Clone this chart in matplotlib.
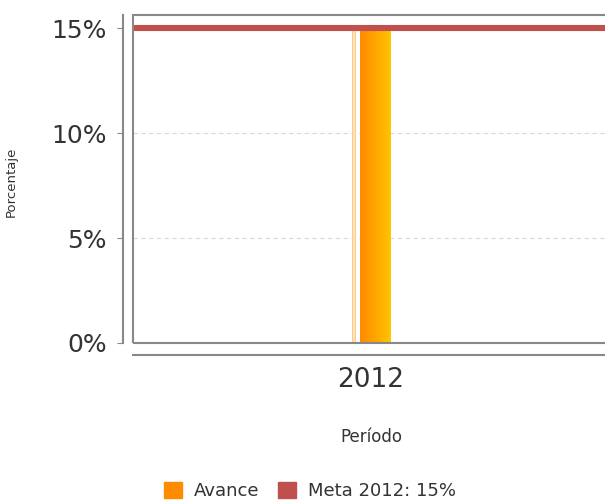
import numpy as np
import matplotlib
matplotlib.use("Agg")
import matplotlib.pyplot as plt
from matplotlib.patches import Patch, Rectangle

periodos = ["2012"]
avance = [15.0]
meta = 15.0
meta_label = "Meta 2012: 15%"
yticks = [0, 5, 10, 15]

fig = plt.figure(figsize=(6.05, 5.03), dpi=100)
W, H = 605, 503
# plot box from x=133 to ~609 (right edge clipped), y=15 to 343
ax = fig.add_axes([133 / W, 1 - 343 / H, 476 / W, (343 - 15) / H])
ax.set_facecolor("white")

x = np.arange(len(periodos))
ax.set_xlim(-0.5, 0.5)
ax.set_ylim(0, 15.62)

# soft left strip and main bar
ax.bar(x - 0.0355, avance, width=0.010, color="#ffc98a", edgecolor="none", zorder=2)
ax.bar(x - 0.0355, avance, width=0.003, color="#ffe2c0", edgecolor="none", zorder=2)
bars = ax.bar(x + 0.0085, avance, width=0.065, color="#ff9900", edgecolor="none", zorder=3)
cmap = matplotlib.colors.LinearSegmentedColormap.from_list("g", ["#ff8a00", "#ffa500", "#ffc400"])
for b in bars:
    grad = np.linspace(0, 1, 64).reshape(1, -1)
    im = ax.imshow(grad, extent=[b.get_x(), b.get_x() + b.get_width(), 0, b.get_height()],
                   aspect="auto", cmap=cmap, zorder=3)
    im.set_clip_path(b)

ax.axhline(meta, color="#c0504d", lw=4.4, zorder=4)

ax.set_yticks(yticks)
ax.set_yticklabels([f"{v}%" for v in yticks])
ax.set_xticks(x)
ax.set_xticklabels(periodos)
ax.grid(axis="y", color="#d9d9d9", linestyle=(0, (4, 3)), lw=0.8, zorder=0)

for s in ["top", "right"]:
    ax.spines[s].set_visible(False)
ax.spines["left"].set_position(("outward", 7))
ax.spines["bottom"].set_position(("outward", 8.6))
for s in ["left", "bottom"]:
    ax.spines[s].set_color("#888888")
    ax.spines[s].set_linewidth(1.5)
ax.tick_params(axis="y", length=4, color="#888888", pad=8, labelsize=18, labelcolor="#333333")
ax.tick_params(axis="x", length=0, pad=9, labelsize=19, labelcolor="#333333")

# inner frame of the plot area
ax.add_patch(Rectangle((0, 0), 1, 1, transform=ax.transAxes, fill=False,
                       edgecolor="#888888", lw=1.5, zorder=5, clip_on=False))

ax.set_ylabel("Porcentaje", fontsize=9.5, color="#333333")
ax.yaxis.set_label_coords((18 - 133) / 476, (343 - 182) / 328)
ax.set_xlabel("Período", fontsize=12, color="#333333")
ax.xaxis.set_label_coords(0.5, (343 - 437) / 328)
ax.xaxis.label.set_va("center")

handles = [Patch(color="#ff8c00", label="Avance"), Patch(color="#c0504d", label=meta_label)]
fig.legend(handles=handles, loc="center", bbox_to_anchor=(310 / W, 1 - 491 / H), ncol=2,
           frameon=False, fontsize=13, handlelength=1.0, handleheight=1.0,
           handletextpad=0.7, columnspacing=1.0, labelcolor="#333333")

fig.savefig("out.png", dpi=100)
